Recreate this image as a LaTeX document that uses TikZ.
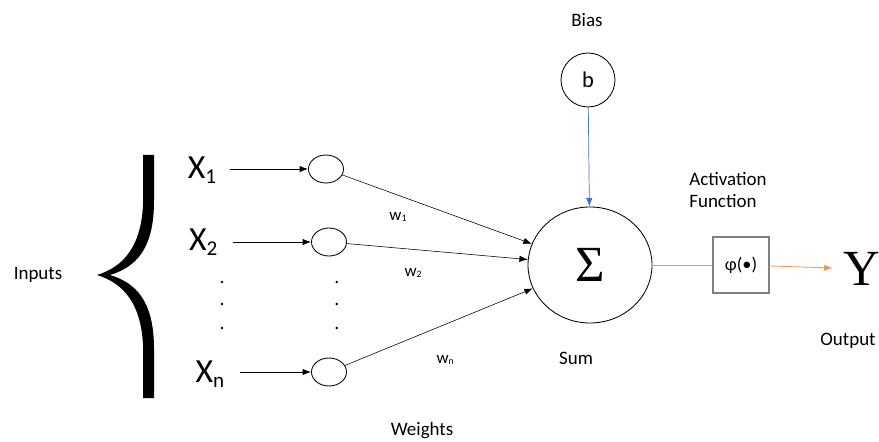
\documentclass[tikz,border=0pt]{standalone}
\usepackage{fontspec}
\setmainfont{Carlito}
\newfontfamily\serifrm{Liberation Serif}
\usetikzlibrary{arrows.meta,shapes.geometric}
\definecolor{biasblue}{RGB}{68,114,196}
\definecolor{actorange}{RGB}{237,125,49}
\newcommand{\xin}[1]{X\raisebox{-0.3ex}{\fontsize{15}{15}\selectfont #1}}
\newcommand{\wgt}[1]{w\raisebox{-0.2ex}{\fontsize{7}{7}\selectfont #1}}
\begin{document}
\begin{tikzpicture}[
		>={Latex[length=6pt,width=4.5pt]},
		label/.style={font=\fontsize{13.5}{16}\selectfont},
		xlabel/.style={font=\fontsize{24}{26}\selectfont,inner sep=1pt},
		wlabel/.style={font=\fontsize{12}{14}\selectfont},
		unit/.style={draw,ellipse,semithick,minimum width=0.875cm,minimum height=0.7cm,inner sep=0pt},
		feed/.style={->,semithick},
		weight/.style={->,thin},
		actline/.style={actorange!80,line width=0.6pt},
	]
	\useasboundingbox (0,0) rectangle (21.975,11.025);

	% ---------- inputs ----------
	\node[label] (inputs) at (0.95,4.15) {Inputs};
	\fill (3.58,7.15) -- (3.58,6.1) .. controls (3.58,4.9) and (3.1,4.35) .. (2.42,4.15)
		.. controls (3.1,3.95) and (3.58,3.4) .. (3.58,2.2) -- (3.58,1.07) -- (3.85,1.07)
		-- (3.85,2.3) .. controls (3.85,3.5) and (3.4,3.95) .. (2.75,4.15)
		.. controls (3.4,4.35) and (3.85,4.8) .. (3.85,6.0) -- (3.85,7.15) -- cycle;

	\node[xlabel] (x1) at (5.05,6.78) {\xin{1}};
	\node[xlabel] (x2) at (5.08,4.98) {\xin{2}};
	\node[xlabel] (xn) at (5.25,1.68) {\xin{n}};

	\node[unit] (in1) at (8.15,6.8) {};
	\node[unit] (in2) at (8.225,4.975) {};
	\node[unit] (inn) at (8.225,1.725) {};

	\draw[feed,shorten <=0.3cm] (x1.east |- in1) -- (in1);
	\draw[feed,shorten <=0.35cm] (x2.east |- in2) -- (in2);
	\draw[feed,shorten <=0.35cm] (xn.east |- inn) -- (inn);

	\foreach \y in {3.975,3.425,2.825} {
		\fill (5.55,\y) circle (0.035);
		\fill (8.42,\y) circle (0.035);
	}

	% ---------- summation ----------
	\node[draw,ellipse,semithick,minimum width=3.1cm,minimum height=2.9cm] (sum) at (14.75,4.4)
		{\serifrm\fontsize{36}{36}\selectfont Σ};
	\node[label] (sumlabel) at (14.4,2.075) {Sum};

	\draw[weight] (in1) -- (sum);
	\draw[weight] (in2) -- (sum);
	\draw[weight] (inn) -- (sum);

	\node[wlabel] (w1) at (9.95,5.6) {\wgt{1}};
	\node[wlabel] (w2) at (10.33,4.2) {\wgt{2}};
	\node[wlabel] (wn) at (11.13,2.03) {\wgt{n}};
	\node[label] (weights) at (10.55,0.25) {Weights};

	% ---------- bias ----------
	\node[label] (biaslabel) at (14.675,10.525) {Bias};
	\node[draw,circle,semithick,minimum size=1.35cm,inner sep=0pt,font=\fontsize{16}{18}\selectfont]
		(bias) at (14.7,9.025) {b};
	\draw[->,biasblue,line width=0.5pt] (bias) -- (sum);

	% ---------- activation and output ----------
	\node[label,align=left] (actlabel) at (18.2,6.275) {Activation\\Function};
	\node[draw=gray,thick,minimum size=1.4cm,inner sep=0pt,font=\fontsize{13}{15}\selectfont]
		(act) at (18.525,4.4) {φ(•)};
	\node[inner sep=2pt,font=\serifrm\fontsize{36}{36}\selectfont] (out) at (21.55,4.3) {Y};
	\node[label] (outlabel) at (21.2,2.5) {Output};

	\draw[actline] (sum) -- (act);
	\draw[->,actline,shorten >=0.2cm] (act) -- (out);

\end{tikzpicture}
\end{document}
